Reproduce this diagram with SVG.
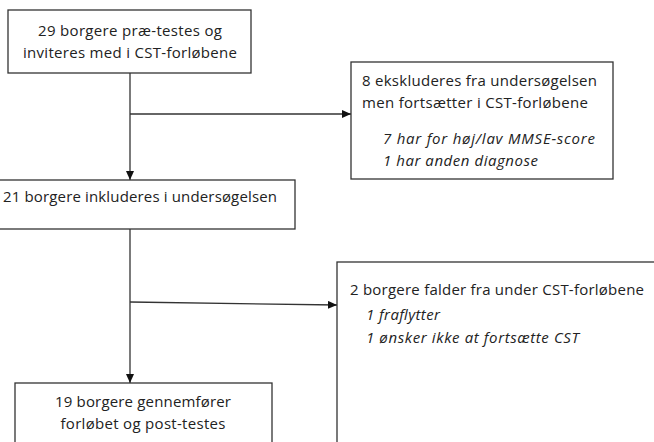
<svg xmlns="http://www.w3.org/2000/svg" width="654" height="442" viewBox="0 0 654 442">
<style>
.box{fill:#fff;stroke:#333;stroke-width:1.3}
.t{font-family:"Open Sans","Noto Sans",sans-serif;font-size:15px;fill:#222}
.i{font-style:italic}
.c{text-anchor:middle}
.ln{stroke:#333;stroke-width:1.3;fill:none}
</style>
<defs>
<marker id="ah" markerWidth="9" markerHeight="8" refX="9" refY="4" orient="auto" markerUnits="userSpaceOnUse">
<path d="M0,0 L9,4 L0,8 Z" fill="#111"/>
</marker>
</defs>
<rect width="654" height="442" fill="#fff"/>
<g id="connectors">
<line class="ln" x1="130" y1="73" x2="130" y2="180" marker-end="url(#ah)"/>
<line class="ln" x1="130" y1="114" x2="351" y2="114" marker-end="url(#ah)"/>
<line class="ln" x1="130" y1="229" x2="130" y2="383" marker-end="url(#ah)"/>
<line class="ln" x1="130" y1="302" x2="337" y2="305" marker-end="url(#ah)"/>
</g>
<g id="n1">
<rect class="box" x="8" y="10" width="243" height="63"/>
<text class="t c" x="130" y="36" textLength="184">29 borgere præ-testes og</text>
<text class="t c" x="130" y="58" textLength="214">inviteres med i CST-forløbene</text>
</g>
<g id="n2">
<rect class="box" x="351" y="62" width="262" height="117"/>
<text class="t" x="362" y="86" textLength="235">8 ekskluderes fra undersøgelsen</text>
<text class="t" x="362" y="108" textLength="226">men fortsætter i CST-forløbene</text>
<text class="t i" x="383" y="144" textLength="212">7 har for høj/lav MMSE-score</text>
<text class="t i" x="383" y="166" textLength="155">1 har anden diagnose</text>
</g>
<g id="n3">
<rect class="box" x="-2" y="180" width="297" height="49"/>
<text class="t" x="3" y="202" textLength="274">21 borgere inkluderes i undersøgelsen</text>
</g>
<g id="n4">
<rect class="box" x="337" y="262" width="330" height="200"/>
<text class="t" x="350" y="295" textLength="294">2 borgere falder fra under CST-forløbene</text>
<text class="t i" x="366" y="320" textLength="74">1 fraflytter</text>
<text class="t i" x="366" y="343" textLength="213">1 ønsker ikke at fortsætte CST</text>
</g>
<g id="n5">
<rect class="box" x="15" y="383" width="257" height="80"/>
<text class="t c" x="143" y="407" textLength="176">19 borgere gennemfører</text>
<text class="t c" x="143" y="429" textLength="165">forløbet og post-testes</text>
</g>
</svg>
